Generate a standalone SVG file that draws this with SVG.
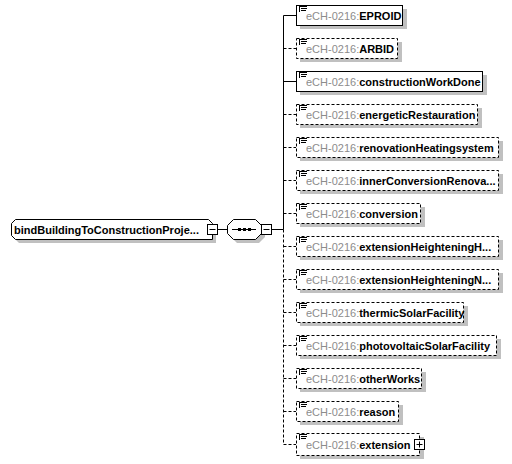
<svg xmlns="http://www.w3.org/2000/svg" width="512" height="464" viewBox="0 0 512 464">
<style>
.bg{fill:#fff}
.sh{fill:#c0c0c0}
.box{fill:#fff;stroke:#000;stroke-width:1}
.opt{stroke-dasharray:3,2}
.ln{stroke:#000;stroke-width:1;fill:none}
.dl{stroke-dasharray:3,2}
.t{font-family:"Liberation Sans",Arial,sans-serif;font-size:11px}
.ns{fill:#8c8c8c}
.nm{fill:#000;font-weight:bold}
.ic{stroke:#000;stroke-width:1}
</style>
<defs>
<g id="icon" class="ic"><path d="M299 1.5H307M301 3.5H307M301 5.5H306M299.5 1.5V7"/></g>
</defs>
<rect class="bg" width="512" height="464"/>

<g id="connectors">
<line class="ln" x1="218" y1="229.5" x2="227" y2="229.5"/>
<line class="ln" x1="272" y1="229.5" x2="283.5" y2="229.5"/>
<line class="ln" x1="283.5" y1="15.5" x2="283.5" y2="229.5"/>
<line class="ln dl" x1="283.5" y1="229.5" x2="283.5" y2="444.5"/>
<line class="ln" x1="283.5" y1="15.5" x2="296" y2="15.5"/>
<line class="ln dl" x1="283.5" y1="48.5" x2="296" y2="48.5"/>
<line class="ln" x1="283.5" y1="81.5" x2="296" y2="81.5"/>
<line class="ln dl" x1="283.5" y1="114.5" x2="296" y2="114.5"/>
<line class="ln dl" x1="283.5" y1="147.5" x2="296" y2="147.5"/>
<line class="ln dl" x1="283.5" y1="180.5" x2="296" y2="180.5"/>
<line class="ln dl" x1="283.5" y1="213.5" x2="296" y2="213.5"/>
<line class="ln dl" x1="283.5" y1="246.5" x2="296" y2="246.5"/>
<line class="ln dl" x1="283.5" y1="279.5" x2="296" y2="279.5"/>
<line class="ln dl" x1="283.5" y1="312.5" x2="296" y2="312.5"/>
<line class="ln dl" x1="283.5" y1="345.5" x2="296" y2="345.5"/>
<line class="ln dl" x1="283.5" y1="378.5" x2="296" y2="378.5"/>
<line class="ln dl" x1="283.5" y1="411.5" x2="296" y2="411.5"/>
<line class="ln dl" x1="283.5" y1="444.5" x2="296" y2="444.5"/>
</g>

<g id="root">
<path class="sh" d="M19 223H212L216 227V243H19L15 239Z"/>
<path class="box" d="M15.5 219.5H208.5L212.5 223.5V239.5H15.5L11.5 235.5V223.5Z"/>
<text class="t nm" x="14" y="233.5">bindBuildingToConstructionProje...</text>
<rect class="box" x="207.5" y="224.5" width="10" height="10"/>
<line class="ln" x1="209.5" y1="229.5" x2="215.5" y2="229.5"/>
</g>

<g id="sequence">
<path class="sh" d="M237 223H259L265 229V237L259 243H237L231 237V229Z"/>
<path class="box" d="M233.5 219.5H255.5L261.5 225.5V233.5L255.5 239.5H233.5L227.5 233.5V225.5Z"/>
<line class="ln" x1="232" y1="229.5" x2="256" y2="229.5"/>
<rect x="238" y="228" width="3" height="3"/>
<rect x="243" y="228" width="3" height="3"/>
<rect x="248" y="228" width="3" height="3"/>
<rect class="box" x="261.5" y="224.5" width="10" height="10"/>
<line class="ln" x1="263.5" y1="229.5" x2="269.5" y2="229.5"/>
</g>

<g id="EPROID" transform="translate(0,5)">
<rect class="sh" x="300" y="4" width="107" height="20"/>
<rect class="box" x="296.5" y="0.5" width="106" height="20"/>
<use href="#icon"/>
<text class="t" x="306" y="14.5"><tspan class="ns">eCH-0216:</tspan><tspan class="nm">EPROID</tspan></text>
</g>
<g id="ARBID" transform="translate(0,38)">
<rect class="sh" x="300" y="4" width="102" height="20"/>
<rect class="box opt" x="296.5" y="0.5" width="101" height="20"/>
<use href="#icon"/>
<text class="t" x="306" y="14.5"><tspan class="ns">eCH-0216:</tspan><tspan class="nm">ARBID</tspan></text>
</g>
<g id="constructionWorkDone" transform="translate(0,71)">
<rect class="sh" x="300" y="4" width="187" height="20"/>
<rect class="box" x="296.5" y="0.5" width="186" height="20"/>
<use href="#icon"/>
<text class="t" x="306" y="14.5"><tspan class="ns">eCH-0216:</tspan><tspan class="nm">constructionWorkDone</tspan></text>
</g>
<g id="energeticRestauration" transform="translate(0,104)">
<rect class="sh" x="300" y="4" width="182" height="20"/>
<rect class="box opt" x="296.5" y="0.5" width="181" height="20"/>
<use href="#icon"/>
<text class="t" x="306" y="14.5"><tspan class="ns">eCH-0216:</tspan><tspan class="nm">energeticRestauration</tspan></text>
</g>
<g id="renovationHeatingsystem" transform="translate(0,137)">
<rect class="sh" x="300" y="4" width="203" height="20"/>
<rect class="box opt" x="296.5" y="0.5" width="202" height="20"/>
<use href="#icon"/>
<text class="t" x="306" y="14.5"><tspan class="ns">eCH-0216:</tspan><tspan class="nm">renovationHeatingsystem</tspan></text>
</g>
<g id="innerConversionRenovation" transform="translate(0,170)">
<rect class="sh" x="300" y="4" width="203" height="20"/>
<rect class="box opt" x="296.5" y="0.5" width="202" height="20"/>
<use href="#icon"/>
<text class="t" x="306" y="14.5"><tspan class="ns">eCH-0216:</tspan><tspan class="nm">innerConversionRenova...</tspan></text>
</g>
<g id="conversion" transform="translate(0,203)">
<rect class="sh" x="300" y="4" width="125" height="20"/>
<rect class="box opt" x="296.5" y="0.5" width="124" height="20"/>
<use href="#icon"/>
<text class="t" x="306" y="14.5"><tspan class="ns">eCH-0216:</tspan><tspan class="nm">conversion</tspan></text>
</g>
<g id="extensionHeighteningHeated" transform="translate(0,236)">
<rect class="sh" x="300" y="4" width="203" height="20"/>
<rect class="box opt" x="296.5" y="0.5" width="202" height="20"/>
<use href="#icon"/>
<text class="t" x="306" y="14.5"><tspan class="ns">eCH-0216:</tspan><tspan class="nm">extensionHeighteningH...</tspan></text>
</g>
<g id="extensionHeighteningNotHeated" transform="translate(0,269)">
<rect class="sh" x="300" y="4" width="203" height="20"/>
<rect class="box opt" x="296.5" y="0.5" width="202" height="20"/>
<use href="#icon"/>
<text class="t" x="306" y="14.5"><tspan class="ns">eCH-0216:</tspan><tspan class="nm">extensionHeighteningN...</tspan></text>
</g>
<g id="thermicSolarFacility" transform="translate(0,302)">
<rect class="sh" x="300" y="4" width="168" height="20"/>
<rect class="box opt" x="296.5" y="0.5" width="167" height="20"/>
<use href="#icon"/>
<text class="t" x="306" y="14.5"><tspan class="ns">eCH-0216:</tspan><tspan class="nm">thermicSolarFacility</tspan></text>
</g>
<g id="photovoltaicSolarFacility" transform="translate(0,335)">
<rect class="sh" x="300" y="4" width="201" height="20"/>
<rect class="box opt" x="296.5" y="0.5" width="200" height="20"/>
<use href="#icon"/>
<text class="t" x="306" y="14.5"><tspan class="ns">eCH-0216:</tspan><tspan class="nm">photovoltaicSolarFacility</tspan></text>
</g>
<g id="otherWorks" transform="translate(0,368)">
<rect class="sh" x="300" y="4" width="126" height="20"/>
<rect class="box opt" x="296.5" y="0.5" width="125" height="20"/>
<use href="#icon"/>
<text class="t" x="306" y="14.5"><tspan class="ns">eCH-0216:</tspan><tspan class="nm">otherWorks</tspan></text>
</g>
<g id="reason" transform="translate(0,401)">
<rect class="sh" x="300" y="4" width="103" height="20"/>
<rect class="box opt" x="296.5" y="0.5" width="102" height="20"/>
<use href="#icon"/>
<text class="t" x="306" y="14.5"><tspan class="ns">eCH-0216:</tspan><tspan class="nm">reason</tspan></text>
</g>
<g id="extension" transform="translate(0,433)">
<rect class="sh" x="300" y="4" width="124" height="22"/>
<rect class="box opt" x="296.5" y="0.5" width="123" height="22"/>
<use href="#icon"/>
<text class="t" x="306" y="16"><tspan class="ns">eCH-0216:</tspan><tspan class="nm">extension</tspan></text>
<rect class="box" x="414.5" y="6.5" width="10" height="10"/>
<path class="ln" d="M416.5 11.5H422.5M419.5 8.5V14.5"/>
</g>
</svg>
